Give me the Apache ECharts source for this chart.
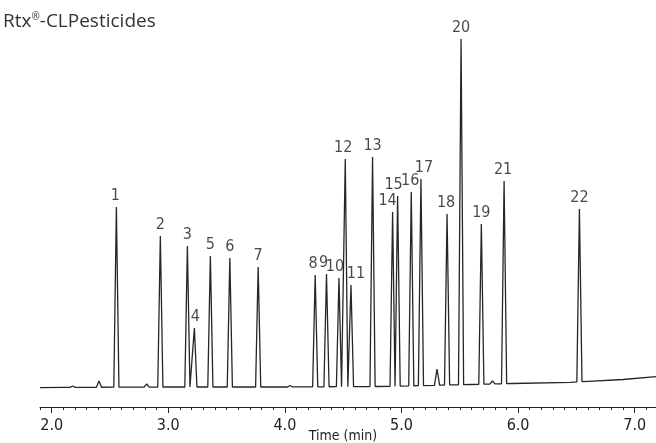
<!DOCTYPE html>
<html>
<head>
<meta charset="utf-8">
<title>Rtx-CLPesticides</title>
<script src="https://cdn.jsdelivr.net/npm/echarts@6/dist/echarts.min.js"></script>
<style>
html, body { margin: 0; padding: 0; background: #fff; }
#chart { width: 656px; height: 443px; }
</style>
</head>
<body>
<div id="chart"></div>
<script>
// peaks (time in min, apex signal in arbitrary units)
const peakNames = ['1', '2', '3', '4', '5', '6', '7', '8', '9', '10', '11',
  '12', '13', '14', '15', '16', '17', '18', '19', '20', '21', '22']
const peakTimes = [2.555, 2.932, 3.164, 3.224, 3.361, 3.528, 3.771, 4.260, 4.357, 4.464, 4.567,
  4.518, 4.752, 4.924, 4.967, 5.084, 5.167, 5.391, 5.685, 5.511, 5.880, 6.526]
const peakHeights = [180, 151, 141, 59, 131, 129, 120, 112, 113, 109, 102,
  228, 230, 175, 191, 195, 208, 173, 163, 348, 206, 178]

// small unlabelled bumps
const minorTimes = [2.18, 2.406, 2.815, 4.045, 5.305, 5.78]
const minorHeights = [1, 6, 3, 1.5, 18, 6]

// baseline drift
const baseTimes = [1.9, 2.1, 2.35, 3.0, 4.0, 4.8, 5.2, 5.6, 5.95, 6.45, 6.6, 6.9, 7.2]
const baseLevels = [-0.7, -0.3, -0.3, 0, 0, 0.5, 1.5, 2.5, 3.5, 4.7, 5.7, 7.5, 10.5]

// x axis labels
const tickValues = [2, 3, 4, 5, 6, 7]

// label nudges (px) so numbers sit like in the original
const labelNudge = { '8': -2, '9': -3, '10': -4, '11': 5, '12': -2, '14': -5, '15': -4, '16': -1, '17': 3, '18': -1, '21': -1, '1': -1, '4': 1 }

const HALF = 0.022
const ink = '#262626'

// use a narrow face if one is installed
function pickFont(list, fallback) {
  const ctx = document.createElement('canvas').getContext('2d')
  ctx.font = '40px monospace'
  const ref = ctx.measureText('Time (min) 0123456789').width
  for (const f of list) {
    ctx.font = "40px '" + f + "', monospace"
    if (Math.abs(ctx.measureText('Time (min) 0123456789').width - ref) > 0.5) return "'" + f + "'"
  }
  return fallback
}
const numFont = pickFont(['Liberation Sans Narrow', 'DejaVu Sans Condensed', 'Arial Narrow'], "'DejaVu Sans'")

function baseAt(t) {
  for (let i = 1; i < baseTimes.length; i++) {
    if (t <= baseTimes[i]) {
      const f = (t - baseTimes[i - 1]) / (baseTimes[i] - baseTimes[i - 1])
      return baseLevels[i - 1] + f * (baseLevels[i] - baseLevels[i - 1])
    }
  }
  return baseLevels[baseLevels.length - 1]
}

const allTimes = peakTimes.concat(minorTimes)
const allHeights = peakHeights.concat(minorHeights)

let trace = []
baseTimes.forEach((t, i) => {
  const inside = allTimes.some(p => Math.abs(p - t) <= HALF)
  if (!inside) trace.push([t, baseLevels[i]])
})
allTimes.forEach((t, i) => {
  trace.push([t - HALF, baseAt(t - HALF)])
  trace.push([t, allHeights[i]])
  trace.push([t + HALF, baseAt(t + HALF)])
})
trace.sort((a, b) => a[0] - b[0])

const labelData = peakNames.map((n, i) => ({
  name: n,
  value: [peakTimes[i], peakHeights[i]],
  label: { offset: [labelNudge[n] || 0, 0] }
}))

const chart = echarts.init(document.getElementById('chart'), null, { renderer: 'canvas' })

chart.setOption({
  animation: false,
  backgroundColor: '#fff',
  title: {
    text: 'Rtx{sup|®}-CLPesticides',
    left: 3,
    top: 12,
    padding: 0,
    textStyle: {
      fontFamily: "'Open Sans', sans-serif",
      fontSize: 19,
      fontWeight: 'normal',
      color: '#333',
      rich: {
        sup: { fontFamily: "'Open Sans', sans-serif", fontSize: 10, color: '#333', verticalAlign: 'top', padding: [0, 0, 8, 0] }
      }
    }
  },
  grid: { left: 40, right: -2, top: 17, bottom: 36, containLabel: false, outerBoundsMode: 'none' },
  xAxis: [
    {
      type: 'value',
      min: 1.9,
      max: 7.2,
      position: 'bottom',
      axisLine: { show: true, onZero: false, lineStyle: { color: ink, width: 1 } },
      axisTick: { show: true, customValues: tickValues, length: 6, lineStyle: { color: ink, width: 1 } },
      axisLabel: {
        customValues: tickValues,
        formatter: v => v.toFixed(1),
        margin: 11,
        fontFamily: numFont,
        fontSize: 16,
        color: '#222'
      },
      splitLine: { show: false },
      name: 'Time (min)',
      nameLocation: 'middle',
      nameGap: 22,
      nameMoveOverlap: false,
      nameTextStyle: { fontFamily: numFont, fontSize: 14, color: '#222', padding: [0, 12, 0, 0] }
    },
    {
      // minor ticks every 0.1 min
      type: 'value',
      min: 1.9,
      max: 7.2,
      interval: 0.1,
      position: 'bottom',
      offset: 0,
      axisLine: { show: false, onZero: false },
      axisTick: { show: true, length: 3, lineStyle: { color: ink, width: 1 } },
      axisLabel: { show: false },
      splitLine: { show: false }
    }
  ],
  yAxis: { type: 'value', min: -20, max: 370, show: false },
  series: [
    {
      type: 'line',
      xAxisIndex: 0,
      data: trace,
      showSymbol: false,
      symbol: 'none',
      lineStyle: { color: ink, width: 1.3 },
      silent: true
    },
    {
      type: 'scatter',
      xAxisIndex: 0,
      data: labelData,
      symbolSize: 1,
      itemStyle: { color: 'rgba(0,0,0,0)' },
      silent: true,
      label: {
        show: true,
        position: 'top',
        distance: 3,
        formatter: p => p.name,
        fontFamily: numFont,
        fontSize: 16,
        color: '#1a1a1a'
      }
    }
  ]
})
</script>
</body>
</html>
